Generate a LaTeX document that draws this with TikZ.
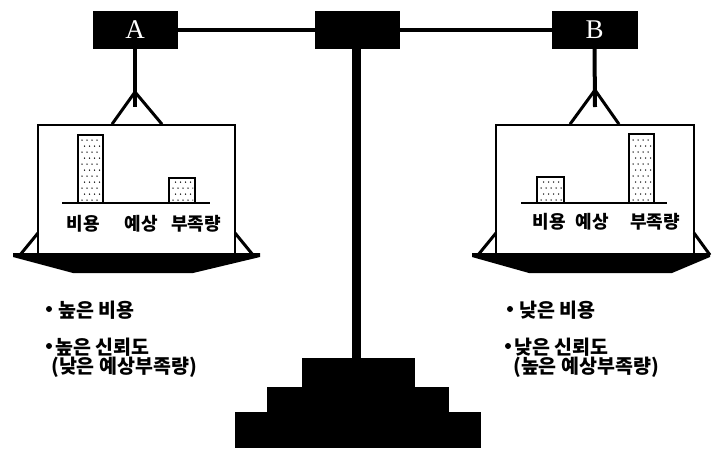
\documentclass[tikz,border=0pt]{standalone}
\usepackage{fontspec}
\setmainfont{Liberation Serif}
\newfontfamily\kr{Noto Sans CJK KR}
\newcommand\stipple[4]{%
  \begin{scope}
    \clip (#1+2,#2-2) rectangle (#3-2,#4+2);
    \foreach \i in {0,...,12}{\foreach \j in {0,...,5}{%
      \fill ({#1+4+\j*5+mod(\i,2)*2.5},{#2-3-\i*6}) circle (0.75pt);}}
  \end{scope}
  \draw[line width=1.6pt] (#1,#2) rectangle (#3,#4);}
\begin{document}
\begin{tikzpicture}[x=1pt,y=-1pt,line join=miter,
  blk/.style={fill=black,draw=black,inner sep=0pt,minimum width=84pt,minimum height=37pt,
    text=white,font=\fontsize{27}{27}\selectfont},
  lab/.style={font=\kr\bfseries\fontsize{18}{18}\selectfont,inner sep=0pt},
  txt/.style={font=\kr\bfseries\fontsize{19.5}{22}\selectfont,inner sep=0pt,anchor=west},
  bul/.style={circle,fill=black,inner sep=0pt,minimum size=6pt},
  pan/.style={draw=black,line width=1.6pt,inner sep=0pt},
  rod/.style={line width=4pt},
  hang/.style={line width=3pt}]
\useasboundingbox (0,0) rectangle (712,448);
% top beam
\node[blk] (A) at (135,29.5) {A};
\node[blk] (C) at (357,29.5) {};
\node[blk,minimum width=85pt] (B) at (594.5,29.5) {B};
\draw[rod] (A.east) -- (C.west);
\draw[rod] (C.east) -- (B.west);
% pole and stand
\coordinate (poleEnd) at (356.5,360);
\draw[line width=9pt] (C.south -| poleEnd) -- (poleEnd);
\fill (302,358) rectangle (415,448);
\fill (267,387) rectangle (449,448);
\fill (235,412) rectangle (481,448);
% left pan
\node[pan,minimum width=197pt,minimum height=130pt] (boxA) at (136.5,190) {};
\coordinate (apA) at (135,92);
\draw[rod] (A.south) -- (135,107);
\draw[hang] (boxA.north west -| 112,0) -- (apA) -- (boxA.north west -| 162,0);
\draw[hang] (38,233) -- (20,255);
\draw[hang] (235,233) -- (253,255);
\fill (13,253) -- (260,253) -- (260,257) -- (193,273) -- (73,273) -- (13,257) -- cycle;
\draw[line width=2.5pt] (62,203) -- (210,203);
\stipple{78}{203}{103}{135}
\stipple{169}{203}{195}{178}
\node[lab] at (83.5,224) {비용};
\node[lab] at (141.5,224) {예상};
\node[lab] at (196,224) {부족량};
% right pan
\node[pan,minimum width=198pt,minimum height=130pt] (boxB) at (595,190) {};
\coordinate (apB) at (595,90);
\draw[rod] (B.south) -- (595,107);
\draw[hang] (boxB.north west -| 570,0) -- (apB) -- (boxB.north west -| 619,0);
\draw[hang] (496,233) -- (478,255);
\draw[hang] (694,233) -- (710,255);
\fill (472,253) -- (710,253) -- (710,257) -- (672,273) -- (529,273) -- (472,257) -- cycle;
\draw[line width=2.5pt] (521,203) -- (667,203);
\stipple{537}{203}{564}{177}
\stipple{629}{203}{654}{134}
\node[lab] at (549.5,222) {비용};
\node[lab] at (592,222) {예상};
\node[lab] at (655,222) {부족량};
% bullet texts
\node[bul] (bl1) at (49,309) {};
\node[txt] (l1) at (58,310) {높은 비용};
\node[bul] (bl2) at (49,346) {};
\node[txt] (l2) at (55,347) {높은 신뢰도};
\node[txt] (l3) at (51,367) {(낮은 예상부족량)};
\node[bul] (br1) at (510,309) {};
\node[txt] (r1) at (519,310) {낮은 비용};
\node[bul] (br2) at (508,346) {};
\node[txt] (r2) at (514,347) {낮은 신뢰도};
\node[txt] (r3) at (513,367) {(높은 예상부족량)};
\end{tikzpicture}
\end{document}
